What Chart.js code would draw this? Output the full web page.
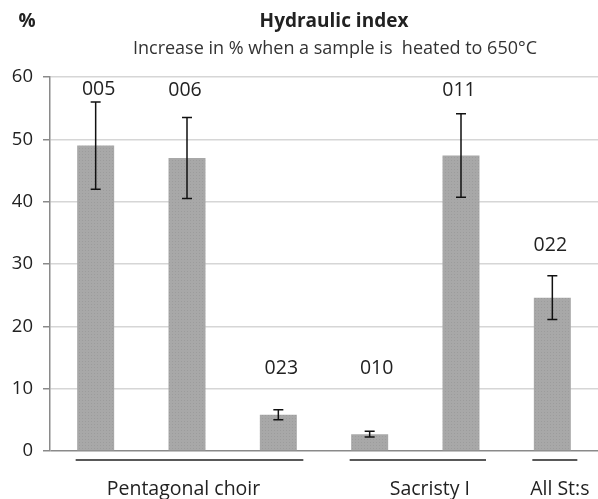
<!DOCTYPE html>
<html>
<head>
<meta charset="utf-8">
<script src="https://cdn.jsdelivr.net/npm/chart.js@4"></script>
<style>
	body { margin: 0; background: #fff; }
	#wrap { width: 598px; height: 499px; }
</style>
</head>
<body>
<div id="wrap"><canvas id="hydraulic-chart" width="598" height="499"></canvas></div>
<script>
// Data
const samples = ["005", "006", "023", "010", "011", "022"];
const values = [49.0, 47.0, 5.8, 2.7, 47.4, 24.6];
const errors = [7.0, 6.5, 0.8, 0.45, 6.7, 3.5];
const yTicks = [0, 10, 20, 30, 40, 50, 60];
const groupNames = ["Pentagonal choir", "Sacristy I", "All St:s"];
const groupFirst = [0, 3, 5];
const groupLast = [2, 4, 5];

const FONT = "'Open Sans', 'Noto Sans', sans-serif";

// dotted grey fill like the original bars
function barPattern() {
	const c = document.createElement("canvas");
	c.width = 3;
	c.height = 3;
	const g = c.getContext("2d");
	g.fillStyle = "#a8a8a8";
	g.fillRect(0, 0, 3, 3);
	g.fillStyle = "#9c9c9c";
	g.fillRect(1, 1, 1, 1);
	return g.createPattern(c, "repeat");
}

// error bars, sample ids, titles and group brackets
const decorations = {
	id: "decorations",
	afterDatasetsDraw(chart, args, opts) {
		const ctx = chart.ctx;
		const x = chart.scales.x;
		const y = chart.scales.y;

		ctx.save();
		// error bars
		ctx.strokeStyle = "#111";
		ctx.lineWidth = 1.5;
		values.forEach((v, i) => {
			const px = x.getPixelForValue(i);
			const top = y.getPixelForValue(v + errors[i]);
			const bot = y.getPixelForValue(v - errors[i]);
			ctx.beginPath();
			ctx.moveTo(px, top);
			ctx.lineTo(px, bot);
			ctx.moveTo(px - 5, top);
			ctx.lineTo(px + 5, top);
			ctx.moveTo(px - 5, bot);
			ctx.lineTo(px + 5, bot);
			ctx.stroke();
		});

		// sample ids above the bars
		ctx.fillStyle = "#222";
		ctx.font = "19.5px " + FONT;
		ctx.textAlign = "center";
		ctx.textBaseline = "middle";
		samples.forEach((s, i) => {
			ctx.fillText(s, x.getPixelForValue(i) + opts.idShift[i], y.getPixelForValue(opts.idAt[i]));
		});

		// titles
		ctx.font = "bold 19px " + FONT;
		ctx.fillText("%", 27, 22);
		ctx.fillText("Hydraulic index", 334, 22);
		ctx.font = "18px " + FONT;
		ctx.fillStyle = "#333";
		ctx.fillText("Increase in % when a sample is  heated to 650\u00B0C", 335, 49);

		// group brackets under the axis
		ctx.strokeStyle = "#222";
		ctx.lineWidth = 1.5;
		ctx.fillStyle = "#222";
		ctx.font = "19.5px " + FONT;
		ctx.textBaseline = "alphabetic";
		groupNames.forEach((name, i) => {
			const x1 = x.getPixelForValue(groupFirst[i]) - 20;
			const x2 = x.getPixelForValue(groupLast[i]) + 25;
			ctx.beginPath();
			ctx.moveTo(x1, 460);
			ctx.lineTo(x2, 460);
			ctx.stroke();
			ctx.fillText(name, (x1 + x2) / 2 + opts.nameShift[i], 495);
		});
		ctx.restore();
	},
};

const chart = new Chart(document.getElementById("hydraulic-chart"), {
	type: "bar",
	data: {
		labels: samples,
		datasets: [
			{
				data: values,
				backgroundColor: barPattern(),
				borderWidth: 0,
				barPercentage: 0.405,
				categoryPercentage: 1,
			},
		],
	},
	options: {
		responsive: false,
		animation: false,
		layout: { padding: { top: 77, bottom: 48, left: 0, right: 0 } },
		plugins: {
			legend: { display: false },
			tooltip: { enabled: false },
			decorations: {
				idAt: [58.0, 57.8, 13.3, 13.3, 57.9, 33.0],
				idShift: [3, -2, 3, 7, -2, -2],
				nameShift: [-6, 12, 5],
			},
		},
		scales: {
			x: {
				display: false,
			},
			y: {
				min: 0,
				max: 60,
				afterFit(scale) {
					scale.width = 50;
				},
				afterBuildTicks(scale) {
					scale.ticks = yTicks.map((v) => ({ value: v }));
				},
				border: { color: "#8a8a8a", width: 1.5 },
				grid: {
					color: (c) => (c.tick && c.tick.value === 0 ? "#8a8a8a" : "#d6d6d6"),
					lineWidth: 1.5,
					tickLength: 7,
					tickColor: "#8a8a8a",
				},
				ticks: {
					color: "#222",
					padding: 10,
					font: { family: FONT, size: 18.5 },
				},
			},
		},
	},
	plugins: [decorations],
});
</script>
</body>
</html>
